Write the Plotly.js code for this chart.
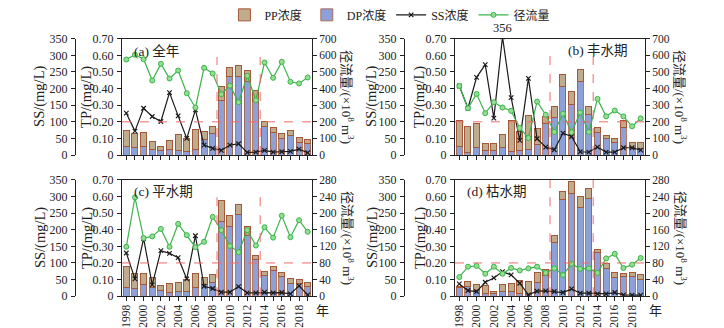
<!DOCTYPE html>
<html><head><meta charset="utf-8">
<script src="https://cdn.plot.ly/plotly-3.0.1.min.js"></script>
<style>html,body{margin:0;padding:0;background:#fff}#chart{width:724px;height:328px}</style>
</head><body><div id="chart"></div>
<script>
const years = [1998,1999,2000,2001,2002,2003,2004,2005,2006,2007,2008,2009,2010,2011,2012,2013,2014,2015,2016,2017,2018,2019];
const labelYears = [1998,2000,2002,2004,2006,2008,2010,2012,2014,2016,2018];

// (a) 全年
const dpA = [0.052,0.048,0.054,0.034,0.028,0.032,0.026,0.024,0.034,0.093,0.127,0.33,0.47,0.47,0.44,0.32,0.171,0.137,0.10,0.117,0.074,0.068];
const ppA = [0.095,0.083,0.079,0.048,0.024,0.055,0.095,0.076,0.117,0.046,0.046,0.08,0.06,0.07,0.07,0.07,0.029,0.026,0.03,0.03,0.033,0.027];
const ssA = [126,72,141,116,101,188,118,50,136,30,20,14,30,34,8,9,14,9,10,11,18,7];
const flowA = [575,604,577,449,549,461,509,372,286,525,491,366,418,318,477,330,557,465,561,441,431,467];
// (b) 丰水期
const dpB = [0.05,0.014,0.048,0.026,0.028,0.048,0.024,0.03,0.034,0.064,0.187,0.229,0.41,0.302,0.441,0.247,0.133,0.10,0.076,0.163,0.044,0.038];
const ppB = [0.157,0.155,0.142,0.044,0.042,0.075,0.185,0.11,0.203,0.095,0.043,0.061,0.075,0.08,0.074,0.043,0.03,0.017,0.024,0.044,0.032,0.036];
const ssB = [208,141,234,272,111,356,173,44,231,49,24,16,66,56,10,9,24,9,9,22,22,15];
const flowB = [416,282,368,252,318,286,266,163,103,322,243,139,249,137,256,139,338,233,268,233,173,221];
// (c) 平水期
const dpC = [0.054,0.044,0.068,0.05,0.034,0.024,0.026,0.028,0.054,0.068,0.08,0.448,0.422,0.494,0.364,0.218,0.126,0.154,0.12,0.078,0.074,0.058];
const ppC = [0.124,0.09,0.066,0.064,0.028,0.05,0.058,0.072,0.08,0.044,0.048,0.126,0.062,0.06,0.058,0.028,0.022,0.022,0.024,0.03,0.028,0.024];
const ssC = [130,52,174,34,137,129,116,52,182,30,23,12,12,29,10,10,12,10,11,7,31,4];
const flowC = [119,238,140,144,162,119,174,147,118,131,191,159,121,106,159,122,166,141,194,142,183,155];
// (d) 枯水期
const dpD = [0.05,0.058,0.034,0.018,0.014,0.028,0.028,0.014,0.008,0.08,0.124,0.324,0.584,0.62,0.534,0.588,0.26,0.164,0.11,0.118,0.12,0.10];
const ppD = [0.008,0.032,0.036,0.044,0.012,0.04,0.046,0.078,0.078,0.064,0.038,0.044,0.044,0.068,0.064,0.058,0.024,0.03,0.03,0.016,0.022,0.028];
const ssD = [37,17,14,42,55,74,64,39,4,15,16,14,11,22,9,9,7,7,11,4,3,3];
const flowD = [46,71,73,54,71,54,68,62,67,71,56,67,51,78,66,67,56,91,102,68,76,92];

const panelTitles = ['(a) 全年','(b) 丰水期','(c) 平水期','(d) 枯水期'];
const tpTicks = [0,0.1,0.2,0.3,0.4,0.5,0.6,0.7];
const tpTickText = ['0','0.10','0.20','0.30','0.40','0.50','0.60','0.70'];
const ssTicks = [0,50,100,150,200,250,300,350];
const flowTicksTop = [0,100,200,300,400,500,600,700];
const flowTicksBot = [0,40,80,120,160,200,240,280];
const periodBreaks = [2008.5, 2013.5];
const breakTop = [0.59, 0.60, 0.61, 0.70];
const tpStandard = 0.2;

const W = 724, H = 328;
const FONT = "'Liberation Serif', 'Noto Sans CJK SC', serif";
const cPP = '#c0ab8c', cPPline = '#a4583a', cDP = '#8da1d8', cFlow = '#3cb44b', cFlowFill = '#93de93', cSS = '#1a1a1a', cRed = '#f26a6a';

const panels = [
  {dp: dpA, pp: ppA, ss: ssA, flow: flowA, flowTicks: flowTicksTop, px: [122,312], py: [37,154], bottom: false},
  {dp: dpB, pp: ppB, ss: ssB, flow: flowB, flowTicks: flowTicksTop, px: [455,645], py: [37,154], bottom: false},
  {dp: dpC, pp: ppC, ss: ssC, flow: flowC, flowTicks: flowTicksBot, px: [122,312], py: [179,296], bottom: true},
  {dp: dpD, pp: ppD, ss: ssD, flow: flowD, flowTicks: flowTicksBot, px: [455,645], py: [179,296], bottom: true}
];

const data = [];
const layout = {
  width: W, height: H, margin: {l:0, r:0, t:0, b:0},
  paper_bgcolor: '#fff', plot_bgcolor: '#fff',
  font: {family: FONT, size: 12, color: '#222'},
  barmode: 'stack', bargap: 0.3,
  showlegend: true,
  legend: {orientation: 'h', traceorder: 'normal', x: 0.31, y: 1.005, xanchor: 'left', yanchor: 'top',
           font: {size: 12, family: FONT}, itemwidth: 30, tracegroupgap: 0, bgcolor: 'rgba(0,0,0,0)'},
  annotations: [], shapes: []
};

panels.forEach((p, k) => {
  const n = k + 1;
  const xa = n === 1 ? 'x' : 'x' + n;
  const ytp = n === 1 ? 'y' : 'y' + n;
  const yss = 'y' + (n + 4);
  const yfl = 'y' + (n + 8);
  const first = k === 0;
  data.push({type: 'bar', x: years, y: p.dp, xaxis: xa, yaxis: ytp, name: 'DP浓度', legendrank: 2,
    marker: {color: cDP, line: {color: cPPline, width: 0.8}}, showlegend: first});
  data.push({type: 'bar', x: years, y: p.pp, xaxis: xa, yaxis: ytp, name: 'PP浓度', legendrank: 1,
    marker: {color: cPP, line: {color: cPPline, width: 1}}, showlegend: first});
  data.push({type: 'scatter', mode: 'lines+markers', x: years, y: p.ss, xaxis: xa, yaxis: yss, name: 'SS浓度', legendrank: 3,
    line: {color: cSS, width: 1.2}, marker: {symbol: 'x-thin', size: 4.5, line: {color: cSS, width: 1.2}}, showlegend: first});
  data.push({type: 'scatter', mode: 'lines+markers', x: years, y: p.flow, xaxis: xa, yaxis: yfl, name: '径流量', legendrank: 4,
    line: {color: cFlow, width: 1.2}, marker: {symbol: 'circle', size: 5, color: cFlowFill, line: {color: cFlow, width: 1}}, showlegend: first});

  const xd = [p.px[0]/W, p.px[1]/W];
  const yd = [1 - p.py[1]/H, 1 - p.py[0]/H];
  const xk = n === 1 ? 'xaxis' : 'xaxis' + n;
  const yk = n === 1 ? 'yaxis' : 'yaxis' + n;
  const axLine = {showline: true, linecolor: '#222', linewidth: 1, showgrid: false, zeroline: false,
                  ticks: 'outside', ticklen: 4, tickcolor: '#222', tickwidth: 1};
  layout[xk] = Object.assign({}, axLine, {domain: xd, anchor: ytp, range: [1997.5, 2019.5],
    tickvals: labelYears, showticklabels: p.bottom, tickangle: -90, mirror: true,
    tickfont: {size: 11.5}, ticklabelstandoff: -1,
    minor: {tick0: 1998, dtick: 1, ticks: 'outside', ticklen: 4, tickcolor: '#222', tickwidth: 1, showgrid: false}});
  layout[yk] = Object.assign({}, axLine, {domain: yd, anchor: xa, range: [0, 0.7],
    tickvals: tpTicks, ticktext: tpTickText, tickfont: {size: 12}, ticklabelstandoff: 1});
  const ssPos = (k % 2 === 0 ? 75 : 404) / W;
  layout['yaxis' + (n + 4)] = Object.assign({}, axLine, {overlaying: ytp, anchor: 'free', position: ssPos,
    side: 'left', range: [0, 350], tickvals: ssTicks, tickfont: {size: 12}, ticklabelstandoff: 1});
  layout['yaxis' + (n + 8)] = Object.assign({}, axLine, {overlaying: ytp, anchor: xa, side: 'right',
    range: [0, p.flowTicks[p.flowTicks.length - 1]], tickvals: p.flowTicks, tickfont: {size: 11.5}, ticklabelstandoff: 0});

  // reference lines
  layout.shapes.push({type: 'line', xref: xa + ' domain', yref: ytp, x0: 0, x1: 1, y0: tpStandard, y1: tpStandard,
    line: {color: cRed, width: 1, dash: 'dash'}});
  periodBreaks.forEach(xb => layout.shapes.push({type: 'line', xref: xa, yref: ytp, x0: xb, x1: xb, y0: 0, y1: breakTop[k],
    line: {color: cRed, width: 1, dash: 'dash'}}));

  // titles
  const cy = 1 - (p.py[0] + p.py[1]) / 2 / H;
  const ssTitleX = (k % 2 === 0 ? 40 : 372) / W;
  layout.annotations.push({xref: 'paper', yref: 'paper', x: ssTitleX, y: cy, text: 'SS/(mg/L)', textangle: -90,
    showarrow: false, font: {size: 14.5, family: FONT}, xanchor: 'center', yanchor: 'middle'});
  layout.annotations.push({xref: 'paper', yref: 'paper', x: (p.px[0] - 35) / W, y: cy, text: 'TP/(mg/L)', textangle: -90,
    showarrow: false, font: {size: 14.5, family: FONT}, xanchor: 'center', yanchor: 'middle'});
  layout.annotations.push({xref: 'paper', yref: 'paper', x: (p.px[1] + 36) / W, y: cy, text: '径流量/(×10<sup>8</sup> m<sup>3</sup>)', textangle: 90,
    showarrow: false, font: {size: 13, family: FONT}, xanchor: 'center', yanchor: 'middle'});
  // panel label
  const right = k === 1;
  layout.annotations.push({xref: xa + ' domain', yref: ytp + ' domain', x: right ? 0.92 : 0.05, y: 0.985,
    xanchor: right ? 'right' : 'left', yanchor: 'top', text: panelTitles[k], showarrow: false, font: {size: 13.5, family: FONT}});
  if (p.bottom) {
    layout.annotations.push({xref: 'paper', yref: 'paper', x: (p.px[1] + 2) / W, y: 1 - 310 / H, text: '年',
      showarrow: false, xanchor: 'left', yanchor: 'middle', font: {size: 13, family: FONT}});
  }
});

// label for clipped SS peak in (b)
const peakIdx = ssB.indexOf(Math.max(...ssB));
layout.annotations.push({xref: 'x2', yref: 'paper', x: years[peakIdx], y: 1 - 26 / H, text: String(ssB[peakIdx]),
  showarrow: false, font: {size: 12.5, family: FONT}, yanchor: 'middle'});

Plotly.newPlot('chart', data, layout, {staticPlot: true, displayModeBar: false});
</script></body></html>
